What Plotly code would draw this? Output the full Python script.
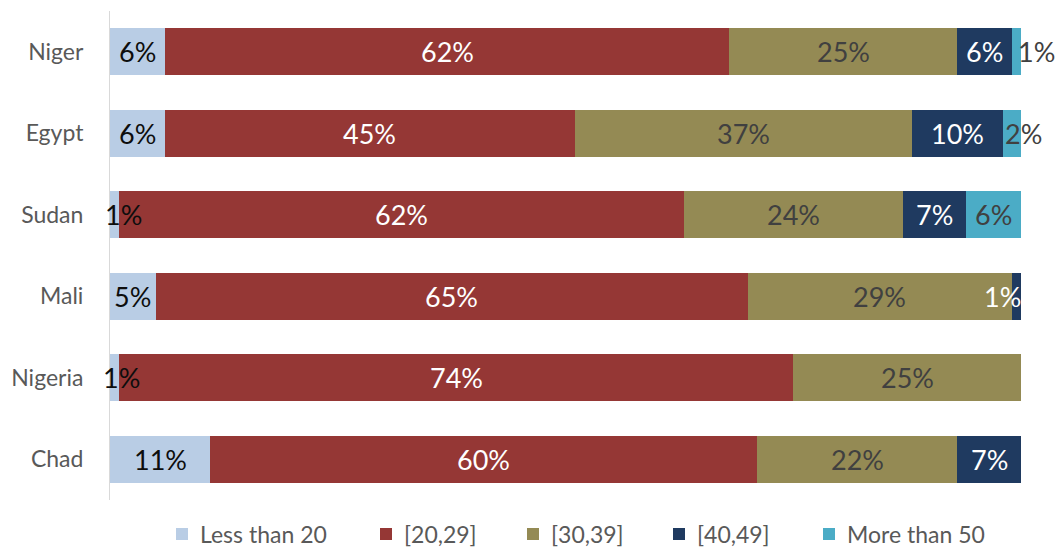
import plotly.graph_objects as go

countries = ["Niger", "Egypt", "Sudan", "Mali", "Nigeria", "Chad"]
age_groups = ["Less than 20", "[20,29]", "[30,39]", "[40,49]", "More than 50"]

less_than_20 = [6, 6, 1, 5, 1, 11]
age_20_29 = [62, 45, 62, 65, 74, 60]
age_30_39 = [25, 37, 24, 29, 25, 22]
age_40_49 = [6, 10, 7, 1, 0, 7]
more_than_50 = [1, 2, 6, 0, 0, 0]

series = [less_than_20, age_20_29, age_30_39, age_40_49, more_than_50]
colors = ["#B9CDE5", "#953735", "#948A54", "#1F3A60", "#4BACC6"]
text_colors = ["#0D0D0D", "#FFFFFF", "#404040", "#FFFFFF", "#404040"]

# pixel nudges for labels too wide for their thin segments
label_nudge = {
    ("Niger", 4): 20,
    ("Egypt", 4): 12,
    ("Sudan", 0): 9,
    ("Nigeria", 0): 7,
    ("Mali", 3): -14,
}

FONT = "Lato"
W, H = 1060, 548
LEFT, RIGHT, TOP, BOTTOM = 110, 39, 11, 48
PW, PH = W - LEFT - RIGHT, H - TOP - BOTTOM

# legend row below the bars (left edge of each swatch, in px)
LEGEND_X = [176, 380, 527, 673, 823]
LEGEND_Y = 534
SWATCH = 12
TEXT_GAP = 22


def px_x(px):
    return (px - LEFT) / PW


def px_y(py):
    return (H - BOTTOM - py) / PH


fig = go.Figure()
for name, vals, col in zip(age_groups, series, colors):
    fig.add_trace(go.Bar(
        y=countries,
        x=vals,
        name=name,
        orientation="h",
        marker=dict(color=col, line=dict(width=0)),
        hoverinfo="skip",
        showlegend=False,
    ))

# value labels centred on each segment
for ci, country in enumerate(countries):
    start = 0
    for gi, vals in enumerate(series):
        v = vals[ci]
        if v > 0:
            fig.add_annotation(
                x=start + v / 2,
                y=country,
                xref="x",
                yref="y",
                text=f"{v}%",
                showarrow=False,
                xanchor="center",
                yanchor="middle",
                xshift=label_nudge.get((country, gi), 0),
                font=dict(family=FONT, size=27, color=text_colors[gi]),
            )
        start += v

# legend: coloured swatch + label for each age group
for name, col, lx in zip(age_groups, colors, LEGEND_X):
    fig.add_shape(
        type="rect",
        xref="paper",
        yref="paper",
        x0=px_x(lx),
        x1=px_x(lx + SWATCH),
        y0=px_y(LEGEND_Y + SWATCH / 2),
        y1=px_y(LEGEND_Y - SWATCH / 2),
        fillcolor=col,
        line=dict(width=0),
    )
    fig.add_annotation(
        x=px_x(lx + TEXT_GAP),
        y=px_y(LEGEND_Y),
        xref="paper",
        yref="paper",
        text=name,
        showarrow=False,
        xanchor="left",
        yanchor="middle",
        font=dict(family=FONT, size=23, color="#595959"),
    )

fig.update_layout(
    barmode="stack",
    bargap=0.42,
    width=W,
    height=H,
    margin=dict(l=LEFT, r=RIGHT, t=TOP, b=BOTTOM),
    paper_bgcolor="white",
    plot_bgcolor="white",
    font=dict(family=FONT, color="#595959"),
    showlegend=False,
    xaxis=dict(
        range=[0, 100],
        showgrid=False,
        showticklabels=False,
        zeroline=False,
        showline=False,
        fixedrange=True,
    ),
    yaxis=dict(
        categoryorder="array",
        categoryarray=countries[::-1],
        showgrid=False,
        showline=True,
        linecolor="#D9D9D9",
        linewidth=1,
        ticks="",
        ticklabelstandoff=21,
        tickfont=dict(family=FONT, size=23, color="#595959"),
        zeroline=False,
    ),
)

fig.write_html("out.html")
